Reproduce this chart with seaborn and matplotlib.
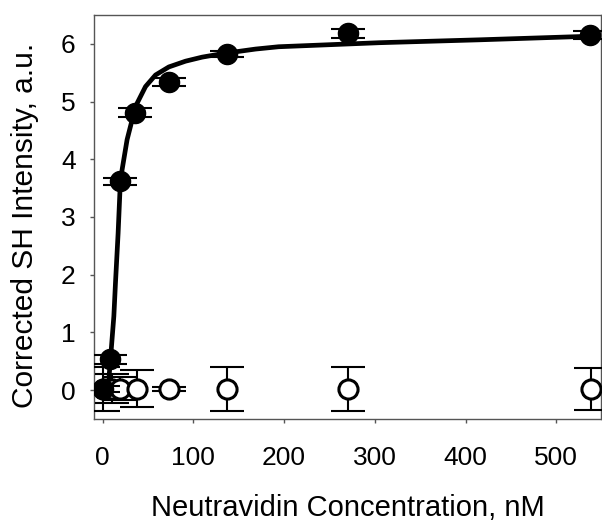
import matplotlib
matplotlib.use("Agg")
import matplotlib.pyplot as plt
import seaborn as sns
import pandas as pd

# Data
conc_filled = [0, 8.8, 19.0, 36.3, 73, 136.7, 271, 537]
sh_filled = [0.02, 0.53, 3.62, 4.81, 5.34, 5.83, 6.18, 6.15]
err_filled = [0.05, 0.08, 0.06, 0.08, 0.07, 0.05, 0.07, 0.07]

conc_open = [0, 10.6, 19.7, 37.6, 73.6, 137, 271, 538]
sh_open = [0.02, 0.02, 0.02, 0.02, 0.02, 0.02, 0.02, 0.02]
err_open = [0.38, 0.25, 0.2, 0.32, 0.03, 0.38, 0.38, 0.36]

fit_x = [7, 8.8, 12.5, 14.3, 17.2, 19.5, 21.6, 27.1, 32.6, 38.1, 47.4, 58.4, 73.1,
         91.5, 109.8, 131.9, 168.7, 194, 305, 415, 533, 545]
fit_y = [0.19, 0.535, 1.28, 1.86, 2.72, 3.55, 3.82, 4.34, 4.68, 4.97, 5.26, 5.46, 5.60,
         5.70, 5.77, 5.83, 5.91, 5.95, 6.02, 6.07, 6.13, 6.135]

x_ticks = [0, 100, 200, 300, 400, 500]
y_ticks = [0, 1, 2, 3, 4, 5, 6]

sns.set_style("ticks")
plt.rcParams['font.family'] = ['Liberation Sans', 'DejaVu Sans']

fig = plt.figure(figsize=(6.02, 5.23), dpi=100)
ax = fig.add_axes([0.1567, 0.199, 0.8413, 0.7723])

fit_df = pd.DataFrame({"x": fit_x, "y": fit_y})
sns.lineplot(data=fit_df, x="x", y="y", sort=False, color="black", linewidth=3.4,
             ax=ax, zorder=2)

# open circles
ax.errorbar(conc_open, sh_open, yerr=err_open, fmt="none", ecolor="black",
            elinewidth=1.5, capsize=12, capthick=1.5, zorder=3)
open_df = pd.DataFrame({"x": conc_open, "y": sh_open})
sns.scatterplot(data=open_df, x="x", y="y", s=190, facecolor="white",
                edgecolor="black", linewidth=2.2, ax=ax, zorder=4)

# filled circles
ax.errorbar(conc_filled, sh_filled, yerr=err_filled, fmt="none", ecolor="black",
            elinewidth=1.5, capsize=12, capthick=1.5, zorder=5)
filled_df = pd.DataFrame({"x": conc_filled, "y": sh_filled})
sns.scatterplot(data=filled_df, x="x", y="y", s=210, color="black",
                edgecolor="black", linewidth=1, ax=ax, zorder=6)

ax.set_xlim(-9, 549)
ax.set_ylim(-0.5, 6.5)
ax.set_xticks(x_ticks)
ax.set_yticks(y_ticks)
ax.set_xticklabels([str(t) for t in x_ticks])
ax.set_yticklabels([str(t) for t in y_ticks])
ax.tick_params(axis="both", direction="out", length=3, width=1, color="#555555",
               labelsize=19, labelcolor="black")
ax.tick_params(axis="x", pad=16.5)
ax.tick_params(axis="y", pad=10.5)
for sp in ax.spines.values():
    sp.set_color("#555555")
    sp.set_linewidth(1)
    sp.set_visible(True)

ax.set_xlabel("Neutravidin Concentration, nM", fontsize=21, labelpad=17, color="black")
ax.set_ylabel("Corrected SH Intensity, a.u.", fontsize=21.5, labelpad=13, color="black")
ax.yaxis.set_label_coords(-0.11, 0.48)
ax.yaxis.label.set_horizontalalignment("center")

fig.savefig("out.png", dpi=100)
